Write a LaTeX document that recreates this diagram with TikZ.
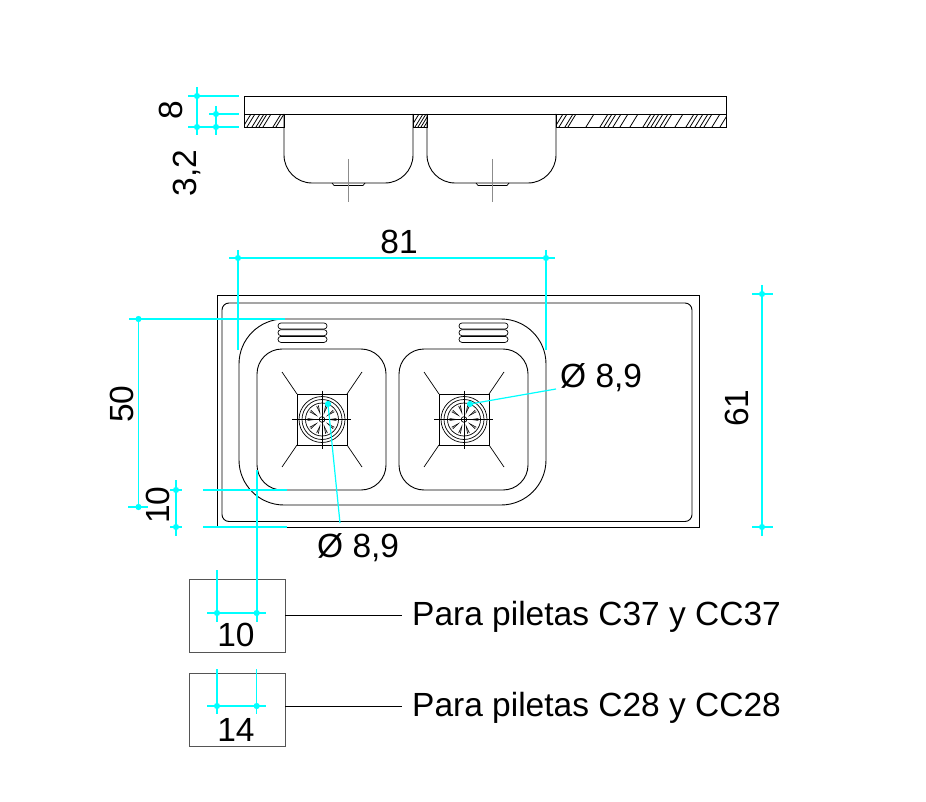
\documentclass[tikz,border=0pt]{standalone}
\usepackage{fontspec}
\setmainfont{Liberation Sans}
\definecolor{dimc}{HTML}{00FFFF}
\definecolor{greyline}{HTML}{8C8C8C}
\definecolor{boxline}{HTML}{555555}
\tikzset{
  part/.style={draw=black,line width=0.9pt},
  thinpart/.style={draw=black,line width=0.7pt},
  dimline/.style={draw=dimc,line width=1.2pt},
  dimdot/.style={circle,fill=dimc,draw=none,inner sep=0pt,minimum size=6.2pt},
  lbl/.style={font=\fontsize{33.5}{36}\selectfont,inner sep=0pt,text=black},
  note/.style={box/.try,draw=boxline,line width=0.8pt,minimum width=96pt,minimum height=73pt,inner sep=0pt},
  hatchline/.style={draw=black,line width=0.8pt}
}
\newcommand{\drainfig}[2]{%
  \begin{scope}[shift={(#1,#2)}]
    \draw[part] (-25,-25.5) rectangle (25,25.5);
    \foreach \sx/\sy/\ex/\ey in {-25/-25.5/-40/-47.5, 25/-25.5/40/-47.5, -25/25.5/-40/47.5, 25/25.5/40/47.5}
      \draw[thinpart] (\sx,\sy) -- (\ex,\ey);
    \foreach \rr in {23,20,16.5} \draw[thinpart] (0,0) circle[radius=\rr];
    \draw[thinpart] (0,0) circle[radius=2.8];
    \foreach \aa in {0,36,...,324}
      \fill[black] (\aa-5:14.5) -- (\aa:5) -- (\aa+5:14.5) -- (\aa+2:14.5) -- (\aa:7) -- (\aa-2:14.5) -- cycle;
    \draw[part] (-30,0) -- (29,0);
    \draw[part] (0,-29) -- (0,29);
  \end{scope}}
\newcommand{\ventfig}[1]{%
  \foreach \vy in {326,332.7,339.4}
    \draw[thinpart,rounded corners=2.9pt] (#1,\vy-3) rectangle (#1+49,\vy+3);}
\newcommand{\bowlside}[3]{% left, right, drain centre
  \draw[part] (#1,114) -- (#1,155) arc[start angle=180,end angle=90,radius=28] -- (#2-28,183)
     arc[start angle=90,end angle=0,radius=28] -- (#2,114);
  \draw[thinpart] (#3-16,183) -- (#3-14,185.5) -- (#3+15,185.5) -- (#3+17,183);
  \draw[greyline,line width=1pt] (#3,159) -- (#3,202);}
\newcommand{\hatchrun}[3]{% x0 x1 list
  \begin{scope}
    \clip (#1,114.5) rectangle (#2,127);
    \foreach \hx in {#3}
      \draw[hatchline] (\hx,127) -- ++(8,-13);
  \end{scope}}
\begin{document}
\begin{tikzpicture}[x=1pt,y=-1pt]
\useasboundingbox (0,0) rectangle (926,802);
\fill[white] (0,0) rectangle (926,802);

% ---- side view
\draw[part,fill=white] (244,96) rectangle (726,114);
\draw[part] (244,114) rectangle (284,127);
\draw[part] (413,114) rectangle (427,127);
\draw[part] (556,114) rectangle (726,127);
\hatchrun{244}{284}{243,247,252,256,259,263,273,276}
\hatchrun{413}{427}{411,415,418,421,424}
\hatchrun{556}{726}{555,559,565,568,586,600,604,608,613,620,630,643,647,651,655,660,664,675,686,690,695,700,704,712,720}
\bowlside{284}{413}{348}
\bowlside{427}{556}{492}

% ---- plan view
\draw[part] (217,295) rectangle (699,527);
\draw[part,rounded corners=7pt] (222,303) rectangle (692,521.5);
\draw[part,rounded corners=45pt] (239,319) rectangle (546,505);
\draw[part,rounded corners=25pt] (257,349) rectangle (386,490);
\draw[part,rounded corners=25pt] (399,349) rectangle (528,490);
\ventfig{278}
\ventfig{459}
\drainfig{322}{419.5}
\drainfig{464}{419.5}

% ---- detail boxes (text + leaders)
\node[note] (boxA) at (237,615.5) {};
\node[note] (boxB) at (237,709.5) {};
\node[lbl,anchor=west] (noteA) at (412,617) {Para piletas C37 y CC37};
\node[lbl,anchor=west] (noteB) at (412,708) {Para piletas C28 y CC28};
\coordinate (leadA) at (402,615);
\coordinate (leadB) at (402,706);
\draw[thinpart] (boxA.east |- leadA) -- (leadA);
\draw[thinpart] (boxB.east |- leadB) -- (leadB);

% ---- dimensions, side view
\foreach \yy/\xa in {96/188,127/188} \draw[dimline] (\xa,\yy) -- (239,\yy);
\draw[dimline] (209,114) -- (239,114);
\draw[dimline] (197,87) -- (197,135);
\draw[dimline] (216,106) -- (216,135);
\node[dimdot] (s1) at (197,96) {};
\node[dimdot] (s2) at (197,127) {};
\node[dimdot] (s3) at (216,114) {};
\node[dimdot] (s4) at (216,127) {};

% ---- 81
\node[dimdot] (d81a) at (238,258) {};
\node[dimdot] (d81b) at (546,258) {};
\draw[dimline] (229,258) -- (555,258);
\draw[dimline] (d81a.center) ++(0,-8) -- (238,350);
\draw[dimline] (d81b.center) ++(0,-8) -- (546,350);

% ---- 50
\node[dimdot] (d50a) at (138.5,319) {};
\node[dimdot] (d50b) at (138.5,507) {};
\draw[dimline] (d50a.center) -- (d50b.center);
\draw[dimline] (129,319) -- (285,319);
\draw[dimline] (128,507) -- (148,507);

% ---- 10 (plan)
\node[dimdot] (d10a) at (176,490) {};
\node[dimdot] (d10b) at (176,527) {};
\draw[dimline] (176,480) -- (176,536);
\draw[dimline] (170,490) -- (182,490);
\draw[dimline] (170,527) -- (182,527);
\draw[dimline] (203,490) -- (287,490);
\draw[dimline] (203,527) -- (287,527);

% ---- 61
\node[dimdot] (d61a) at (762,294) {};
\node[dimdot] (d61b) at (762,527) {};
\draw[dimline] (762,285) -- (762,536);
\draw[dimline] (752,294) -- (773,294);
\draw[dimline] (752,527) -- (773,527);

% ---- detail dims
\node[dimdot] (a1) at (217,613) {};
\node[dimdot] (a2) at (256.7,613) {};
\draw[dimline] (207,613) -- (266,613);
\draw[dimline] (217,570) -- (217,622);
\draw[dimline] (257,470) -- (257,622);
\node[dimdot] (b1) at (217,706) {};
\node[dimdot] (b2) at (256.7,706) {};
\draw[dimline] (207,706) -- (266,706);
\draw[dimline] (217,669) -- (217,714);
\draw[dimline] (256.7,669) -- (256.7,714);

% ---- diameter leaders
\node[dimdot] (p1) at (328,404) {};
\node[dimdot] (p2) at (470,404) {};
\coordinate (q1) at (340,523);
\coordinate (q2) at (556,389);
\draw[dimline] (p1.center) -- (q1);
\draw[dimline] (p2.center) -- (q2);

% ---- labels
\node[lbl,rotate=90] (t8) at (171,110) {8};
\node[lbl,rotate=90] (t32) at (187,173) {3,2};
\node[lbl] (t81) at (399,242) {81};
\node[lbl,rotate=90] (t50) at (122,404) {50};
\node[lbl,rotate=90] (t10) at (158,505) {10};
\node[lbl,rotate=90] (t61) at (737,408) {61};
\node[lbl] (t10b) at (236,635) {10};
\node[lbl] (t14) at (236,730) {14};
\node[lbl,anchor=west] (dA) at (317,548) {Ø 8,9};
\node[lbl,anchor=west] (dB) at (560,378) {Ø 8,9};
\end{tikzpicture}
\end{document}
